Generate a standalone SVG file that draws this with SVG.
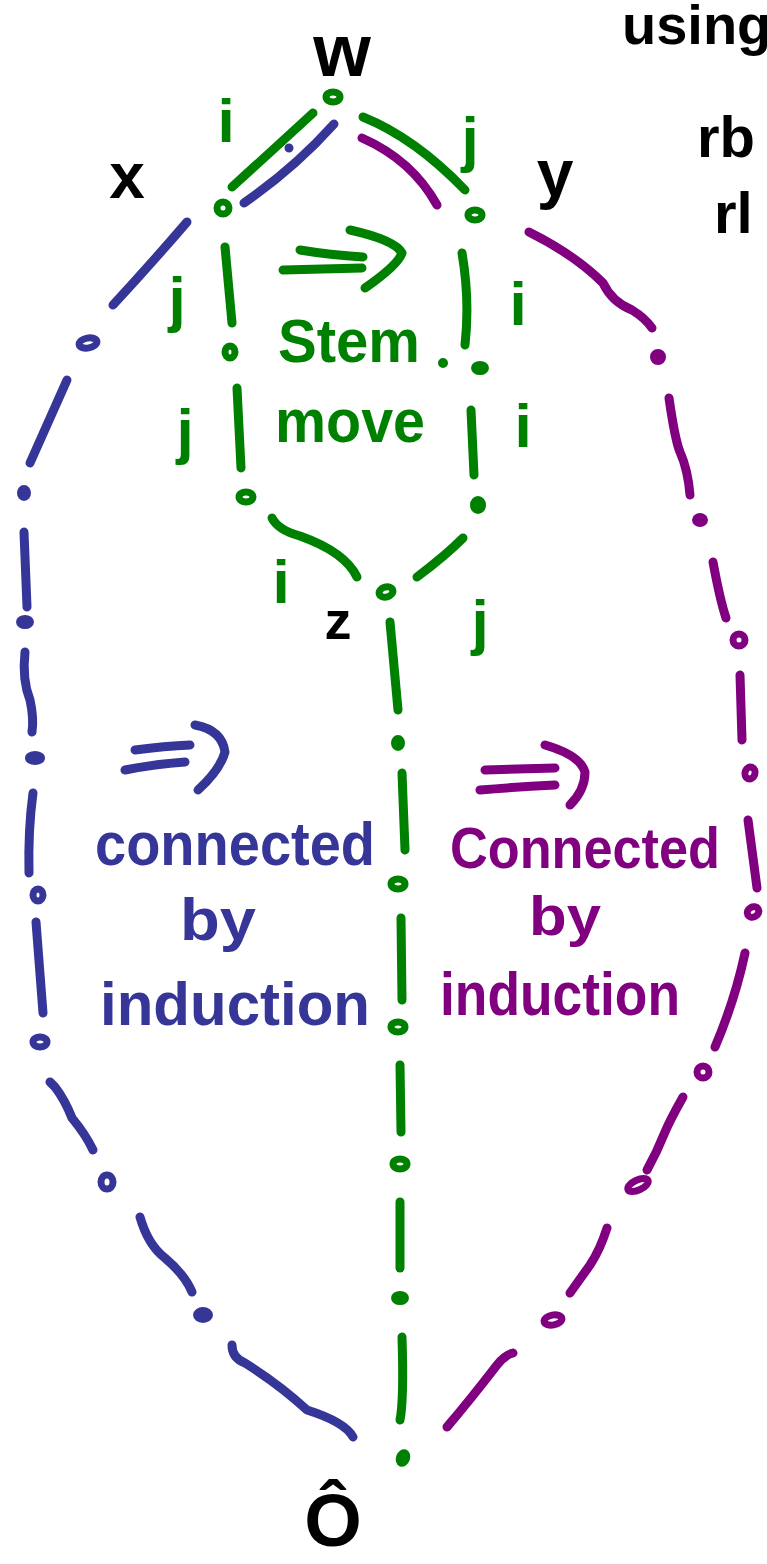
<svg xmlns="http://www.w3.org/2000/svg" width="767" height="1564" viewBox="0 0 767 1564">
  <style>
    .ln { fill: none; stroke-width: 9; stroke-linecap: round; stroke-linejoin: round; }
    .g { stroke: #008000; }
    .b { stroke: #363699; }
    .p { stroke: #800080; }
    .ring { stroke-width: 7; fill: none; }
    .dot.g { fill: #008000; stroke: #008000; stroke-width: 4; }
    .dot.b { fill: #363699; stroke: #363699; stroke-width: 4; }
    .dot.p { fill: #800080; stroke: #800080; stroke-width: 4; }
    text { font-family: "Liberation Sans", "DejaVu Sans", sans-serif; font-weight: bold; }
    .tk { fill: #000000; }
    .tg { fill: #008000; }
    .tb { fill: #363699; }
    .tp { fill: #800080; }
  </style>

  <!-- note in the top right corner, running off the page -->
  <g id="note" class="tk">
    <text x="622" y="44" font-size="56">using</text>
    <text x="697" y="157" font-size="58">rb</text>
    <text x="714" y="233" font-size="58">rl</text>
  </g>

  <!-- connectors between the elements -->
  <g id="connectors">
    <!-- green: stem move square and middle chain -->
    <path class="ln g" d="M232,187 Q275,148 313,113"/>
    <path class="ln g" d="M363,117 Q415,138 465,190"/>
    <path class="ln g" d="M225,247 L232,323"/>
    <path class="ln g" d="M237,388 L241,468"/>
    <path class="ln g" d="M272,518 Q278,530 300,536 Q345,552 357,577"/>
    <path class="ln g" d="M462,253 Q470,300 465,345"/>
    <path class="ln g" d="M471,410 L474,475"/>
    <path class="ln g" d="M463,538 Q445,556 417,577"/>
    <path class="ln g" d="M390,622 L398,710"/>
    <path class="ln g" d="M402,773 L405,850"/>
    <path class="ln g" d="M401,918 L402,1000"/>
    <path class="ln g" d="M400,1065 L401,1132"/>
    <path class="ln g" d="M400,1202 L400,1268"/>
    <path class="ln g" d="M402,1337 Q404,1400 400,1420"/>

    <!-- blue: left chain through x -->
    <path class="ln b" d="M244,203 C270,185 300,162 334,124"/>
    <path class="ln b" d="M187,222 Q150,265 113,305"/>
    <path class="ln b" d="M67,380 L30,463"/>
    <path class="ln b" d="M24,532 L27,607"/>
    <path class="ln b" d="M25,652 Q22,680 30,700 Q34,718 32,732"/>
    <path class="ln b" d="M33,793 Q28,830 29,873"/>
    <path class="ln b" d="M36,922 L43,1013"/>
    <path class="ln b" d="M50,1082 L55,1087 Q65,1100 72,1118 Q86,1135 93,1150"/>
    <path class="ln b" d="M140,1217 Q148,1245 165,1258 Q185,1275 192,1292"/>
    <path class="ln b" d="M232,1345 Q232,1358 245,1363 Q280,1385 307,1410 Q345,1422 353,1437"/>

    <!-- purple: right chain through y -->
    <path class="ln p" d="M362,138 Q412,160 437,205"/>
    <path class="ln p" d="M529,232 Q575,255 603,283 Q612,302 632,310 Q645,318 652,328"/>
    <path class="ln p" d="M669,398 Q675,440 680,452 Q688,470 690,495"/>
    <path class="ln p" d="M713,562 Q720,600 726,618"/>
    <path class="ln p" d="M740,675 L742,740"/>
    <path class="ln p" d="M748,820 L757,888"/>
    <path class="ln p" d="M745,953 Q735,1000 715,1047"/>
    <path class="ln p" d="M683,1097 Q670,1120 665,1132 Q657,1152 647,1170"/>
    <path class="ln p" d="M607,1228 Q600,1250 590,1265 L570,1293"/>
    <path class="ln p" d="M513,1353 Q505,1355 497,1365 Q470,1400 447,1427"/>
  </g>

  <!-- top element w -->
  <g id="node-w">
    <ellipse class="ring g" cx="333" cy="97" rx="7" ry="5"/>
    <text class="tk" x="342" y="76" font-size="74" text-anchor="middle">w</text>
  </g>

  <!-- element x -->
  <g id="node-x">
    <ellipse class="ring g" cx="223" cy="208" rx="6" ry="6"/>
    <text class="tk" x="127" y="198" font-size="64" text-anchor="middle">x</text>
  </g>

  <!-- element y -->
  <g id="node-y">
    <ellipse class="ring g" cx="475" cy="215" rx="7" ry="5"/>
    <text class="tk" x="555" y="196" font-size="66" text-anchor="middle">y</text>
  </g>

  <!-- element z -->
  <g id="node-z">
    <ellipse class="ring g" cx="386" cy="592" rx="7" ry="5" transform="rotate(-15 386 592)"/>
    <text class="tk" x="338" y="639" font-size="54" text-anchor="middle">z</text>
  </g>

  <!-- bottom element -->
  <g id="node-bottom">
    <ellipse class="dot g" cx="403" cy="1458" rx="5" ry="7" transform="rotate(20 403 1458)"/>
    <text class="tk" x="333" y="1546" font-size="74" text-anchor="middle">Ô</text>
  </g>

  <!-- stem move square -->
  <g id="stem-move">
    <ellipse class="ring g" cx="230" cy="352" rx="5" ry="6"/>
    <ellipse class="ring g" cx="246" cy="497" rx="7" ry="5"/>
    <ellipse class="dot g" cx="480" cy="368" rx="7" ry="5"/>
    <ellipse class="dot g" cx="478" cy="505" rx="6" ry="7"/>
    <circle class="dot g" cx="443" cy="363" r="3"/>
    <path class="ln g" d="M283,270 L362,268"/>
    <path class="ln g" d="M300,250 Q330,255 363,257"/>
    <path class="ln g" d="M350,230 Q395,240 402,253 Q398,265 365,288"/>
    <text class="tg" x="349" y="362" font-size="62" text-anchor="middle" textLength="142" lengthAdjust="spacingAndGlyphs">Stem</text>
    <text class="tg" x="350" y="442" font-size="62" text-anchor="middle" textLength="150" lengthAdjust="spacingAndGlyphs">move</text>
    <text class="tg" x="226" y="142" font-size="62" text-anchor="middle">i</text>
    <text class="tg" x="470" y="160" font-size="62" text-anchor="middle">j</text>
    <text class="tg" x="177" y="320" font-size="62" text-anchor="middle">j</text>
    <text class="tg" x="518" y="325" font-size="62" text-anchor="middle">i</text>
    <text class="tg" x="185" y="452" font-size="62" text-anchor="middle">j</text>
    <text class="tg" x="523" y="447" font-size="62" text-anchor="middle">i</text>
    <text class="tg" x="281" y="603" font-size="62" text-anchor="middle">i</text>
    <text class="tg" x="480" y="643" font-size="62" text-anchor="middle">j</text>
  </g>

  <!-- middle chain from z down -->
  <g id="chain-middle">
    <ellipse class="dot g" cx="398" cy="743" rx="5" ry="6"/>
    <ellipse class="ring g" cx="398" cy="884" rx="7" ry="5"/>
    <ellipse class="ring g" cx="398" cy="1027" rx="7" ry="5"/>
    <ellipse class="ring g" cx="400" cy="1164" rx="7" ry="5"/>
    <ellipse class="dot g" cx="400" cy="1298" rx="7" ry="5"/>
  </g>

  <!-- left chain -->
  <g id="chain-left">
    <ellipse class="ring b" cx="88" cy="343" rx="9" ry="5" transform="rotate(-10 88 343)"/>
    <ellipse class="dot b" cx="24" cy="493" rx="5" ry="6"/>
    <ellipse class="dot b" cx="25" cy="622" rx="7" ry="5"/>
    <ellipse class="dot b" cx="35" cy="758" rx="8" ry="5"/>
    <ellipse class="ring b" cx="38" cy="895" rx="5" ry="6"/>
    <ellipse class="ring b" cx="40" cy="1042" rx="7" ry="5"/>
    <ellipse class="ring b" cx="107" cy="1182" rx="6" ry="7"/>
    <ellipse class="dot b" cx="203" cy="1315" rx="8" ry="6"/>
    <circle class="dot b" cx="289" cy="148" r="2.5"/>
    <path class="ln b" d="M125,770 Q155,764 185,762"/>
    <path class="ln b" d="M135,750 Q165,746 190,745"/>
    <path class="ln b" d="M195,725 Q222,730 225,752 Q220,770 198,790"/>
    <text class="tb" x="235" y="865" font-size="62" text-anchor="middle" textLength="280" lengthAdjust="spacingAndGlyphs">connected</text>
    <text class="tb" x="218" y="940" font-size="60" text-anchor="middle" textLength="76" lengthAdjust="spacingAndGlyphs">by</text>
    <text class="tb" x="235" y="1025" font-size="62" text-anchor="middle" textLength="270" lengthAdjust="spacingAndGlyphs">induction</text>
  </g>

  <!-- right chain -->
  <g id="chain-right">
    <ellipse class="dot p" cx="658" cy="357" rx="6" ry="6"/>
    <ellipse class="dot p" cx="700" cy="520" rx="6" ry="5"/>
    <ellipse class="ring p" cx="739" cy="640" rx="6" ry="6"/>
    <ellipse class="ring p" cx="750" cy="773" rx="5" ry="6" transform="rotate(20 750 773)"/>
    <ellipse class="ring p" cx="753" cy="912" rx="6" ry="5" transform="rotate(-30 753 912)"/>
    <ellipse class="ring p" cx="703" cy="1072" rx="6" ry="6"/>
    <ellipse class="ring p" cx="638" cy="1185" rx="11" ry="5" transform="rotate(-25 638 1185)"/>
    <ellipse class="ring p" cx="553" cy="1320" rx="9" ry="5" transform="rotate(-10 553 1320)"/>
    <path class="ln p" d="M480,790 Q515,787 555,785"/>
    <path class="ln p" d="M485,770 L555,768"/>
    <path class="ln p" d="M545,745 Q580,755 585,772 Q585,790 570,805"/>
    <text class="tp" x="585" y="868" font-size="58" text-anchor="middle" textLength="270" lengthAdjust="spacingAndGlyphs">Connected</text>
    <text class="tp" x="565" y="935" font-size="56" text-anchor="middle" textLength="72" lengthAdjust="spacingAndGlyphs">by</text>
    <text class="tp" x="560" y="1015" font-size="62" text-anchor="middle" textLength="240" lengthAdjust="spacingAndGlyphs">induction</text>
  </g>
</svg>
